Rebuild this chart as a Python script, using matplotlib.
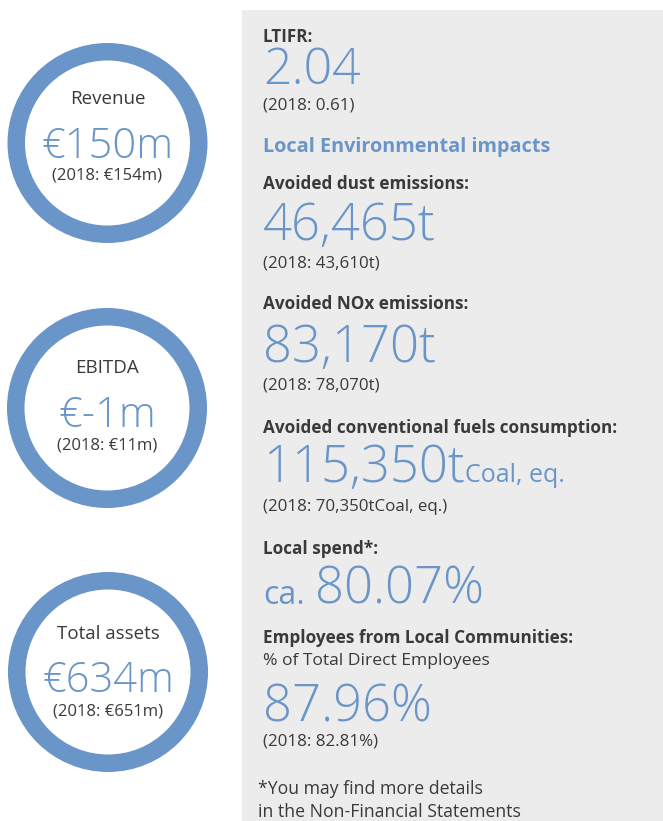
import matplotlib
matplotlib.use("Agg")
import matplotlib.pyplot as plt
from matplotlib.patches import Circle, Rectangle

# ---- data ----
kpi_labels = ["Revenue", "EBITDA", "Total assets"]
kpi_values = ["€150m", "€-1m", "€634m"]
kpi_prev = ["(2018: €154m)", "(2018: €11m)", "(2018: €651m)"]

ltifr_label = "LTIFR:"
ltifr_value = "2.04"
ltifr_prev = "(2018: 0.61)"

section_title = "Local Environmental impacts"
env_labels = ["Avoided dust emissions:", "Avoided NOx emissions:",
              "Avoided conventional fuels consumption:"]
env_values = ["46,465t", "83,170t", "115,350t"]
env_units = ["", "", "Coal, eq."]
env_prev = ["(2018: 43,610t)", "(2018: 78,070t)", "(2018: 70,350tCoal, eq.)"]

spend_label = "Local spend*:"
spend_prefix = "ca."
spend_value = "80.07%"

emp_label = "Employees from Local Communities:"
emp_sub = "% of Total Direct Employees"
emp_value = "87.96%"
emp_prev = "(2018: 82.81%)"

footnote = ["*You may find more details", "in the Non-Financial Statements"]

# ---- style ----
BLUE = "#6a95c8"
DARK = "#3a3a3a"
PANEL = "#ececec"
FONT = "Open Sans"
plt.rcParams["font.family"] = [FONT, "DejaVu Sans"]

W, H = 663, 821
fig = plt.figure(figsize=(W / 100, H / 100), dpi=100)
ax = fig.add_axes([0, 0, 1, 1])
ax.set_xlim(0, W)
ax.set_ylim(H, 0)
ax.axis("off")

ax.add_patch(Rectangle((242, 10), W - 242, H - 10, facecolor=PANEL, edgecolor="none"))

# ---- circles ----
centers = [(107.5, 143), (107, 408), (108, 672)]
label_base = [104, 373, 639]
value_base = [158, 427, 692]
prev_base = [180, 450, 715]
for i, (cx, cy) in enumerate(centers):
    ax.add_patch(Circle((cx, cy), 100, facecolor=BLUE, edgecolor="none"))
    ax.add_patch(Circle((cx, cy), 82.5, facecolor="white", edgecolor="none"))
    ax.text(cx, label_base[i], kpi_labels[i], ha="center", va="baseline",
            fontsize=13.5, color=DARK)
    ax.text(cx, value_base[i], kpi_values[i], ha="center", va="baseline",
            fontsize=30, color=BLUE, fontweight="light")
    ax.text(cx, prev_base[i], kpi_prev[i], ha="center", va="baseline",
            fontsize=12, color=DARK)

X0 = 263
BIG = 36.5
LBL = 12.3
REG = 12.2

def label(y, s, size=LBL, color=DARK, weight="bold", x=X0):
    return ax.text(x, y, s, ha="left", va="baseline", fontsize=size,
                   color=color, fontweight=weight)

def big(y, s, x=X0, size=BIG):
    return ax.text(x, y, s, ha="left", va="baseline", fontsize=size,
                   color=BLUE, fontweight="light")

renderer = fig.canvas.get_renderer()

def right_edge(t):
    bb = t.get_window_extent(renderer=renderer)
    return ax.transData.inverted().transform((bb.x1, bb.y0))[0]

label(42, ltifr_label)
big(84, ltifr_value, size=36)
label(109, ltifr_prev, size=REG, weight="normal")

label(152, section_title, size=14.3, color=BLUE)

env_label_base = [189, 309, 433]
env_value_base = [240, 362, 482]
env_prev_base = [268, 389, 511]
for i in range(3):
    label(env_label_base[i], env_labels[i])
    t = big(env_value_base[i], env_values[i])
    if env_units[i]:
        xr = right_edge(t)
        ax.text(xr, env_value_base[i], env_units[i], ha="left", va="baseline",
                fontsize=18, color=BLUE)
    label(env_prev_base[i], env_prev[i], size=REG, weight="normal")

label(554, spend_label)
t = ax.text(X0, 604, spend_prefix, ha="left", va="baseline", fontsize=23, color=BLUE)
big(604, spend_value, x=right_edge(t) + 10)

label(643, emp_label)
label(665, emp_sub, size=12.6, weight="normal")
big(722, emp_value)
label(746, emp_prev, size=REG, weight="normal")

label(794, footnote[0], size=12.7, weight="normal", x=258)
label(817, footnote[1], size=12.7, weight="normal", x=258)

fig.savefig("out.png", dpi=100)
